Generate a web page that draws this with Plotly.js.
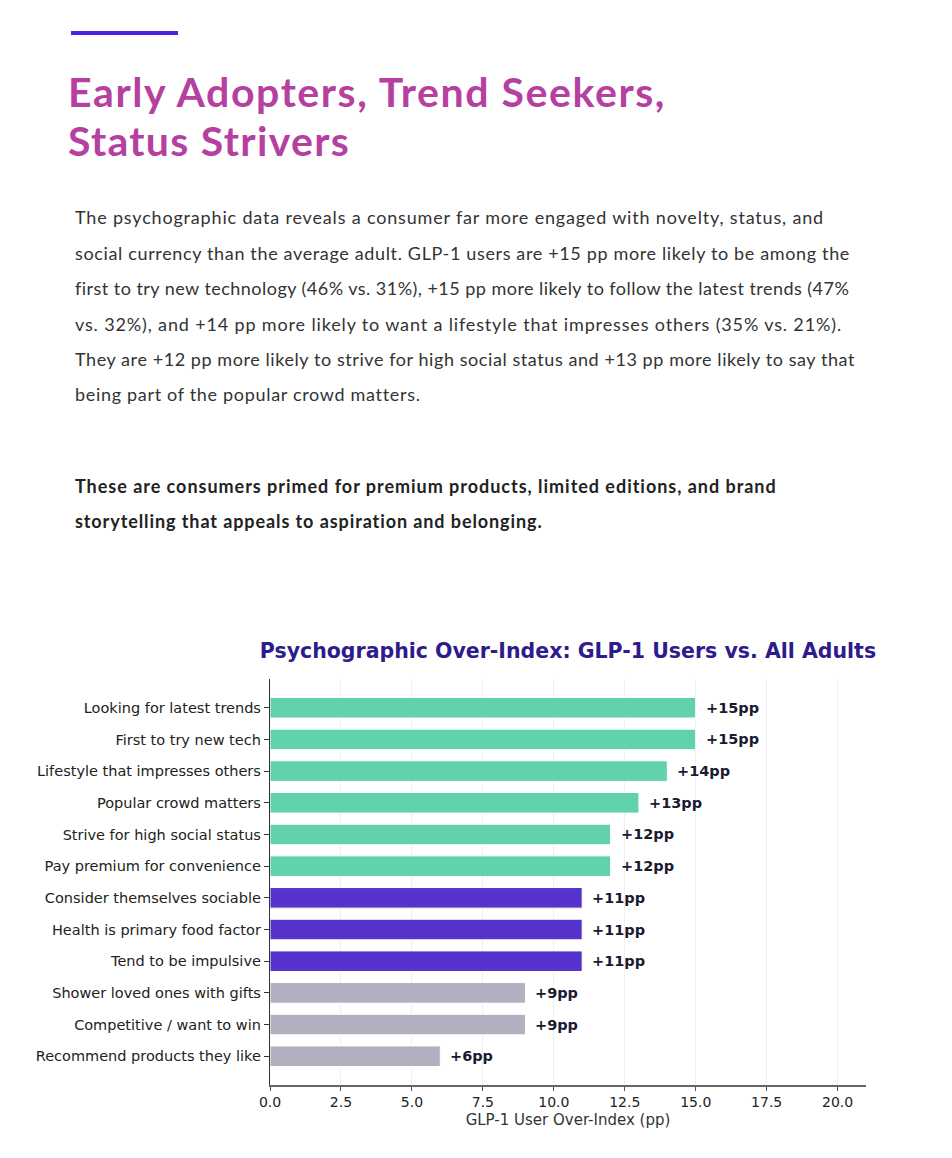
<!DOCTYPE html>
<html>
<head>
<meta charset="utf-8">
<script src="https://cdn.plot.ly/plotly-3.0.1.min.js"></script>
<style>
  html, body { margin:0; padding:0; background:#fff; }
  body { width:952px; height:1158px; position:relative; overflow:hidden; font-family: Lato, "Open Sans", sans-serif; }
  .bar { position:absolute; left:71px; top:31px; width:107px; height:4px; background:#4b20e8; }
  .h { position:absolute; left:68px; font-family: Lato, sans-serif; font-weight:700; font-size:41px; color:#b5409f; white-space:nowrap; line-height:1; }
  .p { position:absolute; left:75px; font-size:18px; color:#333; white-space:nowrap; line-height:1; }
  .b { font-weight:700; color:#222; }
  #chart { position:absolute; left:0; top:600px; width:952px; height:558px; }
</style>
</head>
<body>
<div class="bar"></div>
<div class="h fit" data-w="598" style="top:71px">Early Adopters, Trend Seekers,</div>
<div class="h fit" data-w="282" style="top:120px">Status Strivers</div>

<div class="p fit" data-w="749" style="top:208px">The psychographic data reveals a consumer far more engaged with novelty, status, and</div>
<div class="p fit" data-w="775" style="top:244px">social currency than the average adult. GLP-1 users are +15 pp more likely to be among the</div>
<div class="p fit" data-w="774" style="top:279px">first to try new technology (46% vs. 31%), +15 pp more likely to follow the latest trends (47%</div>
<div class="p fit" data-w="767" style="top:315px">vs. 32%), and +14 pp more likely to want a lifestyle that impresses others (35% vs. 21%).</div>
<div class="p fit" data-w="780" style="top:350px">They are +12 pp more likely to strive for high social status and +13 pp more likely to say that</div>
<div class="p fit" data-w="345" style="top:385px">being part of the popular crowd matters.</div>

<div class="p b fit" data-w="702" style="top:477px">These are consumers primed for premium products, limited editions, and brand</div>
<div class="p b fit" data-w="468" style="top:512px">storytelling that appeals to aspiration and belonging.</div>

<div id="chart"></div>
<script>
document.querySelectorAll(".fit").forEach(el => {
  const target = parseFloat(el.dataset.w);
  const w = el.getBoundingClientRect().width;
  const n = el.textContent.length;
  el.style.letterSpacing = ((target - w) / n) + "px";
});

const categories = [
  "Looking for latest trends",
  "First to try new tech",
  "Lifestyle that impresses others",
  "Popular crowd matters",
  "Strive for high social status",
  "Pay premium for convenience",
  "Consider themselves sociable",
  "Health is primary food factor",
  "Tend to be impulsive",
  "Shower loved ones with gifts",
  "Competitive / want to win",
  "Recommend products they like"
];
const values = [15, 15, 14, 13, 12, 12, 11, 11, 11, 9, 9, 6];
const tiers = ["high","high","high","high","high","high","mid","mid","mid","low","low","low"];
const valueLabels = ["+15pp","+15pp","+14pp","+13pp","+12pp","+12pp","+11pp","+11pp","+11pp","+9pp","+9pp","+6pp"];
const xTicks = [0, 2.5, 5, 7.5, 10, 12.5, 15, 17.5, 20];
const xTickLabels = ["0.0","2.5","5.0","7.5","10.0","12.5","15.0","17.5","20.0"];

const tierColor = { high:"#61d2ad", mid:"#5533cc", low:"#b1afc0" };

const trace = {
  type: "bar",
  orientation: "h",
  x: values,
  y: categories,
  width: 0.65,
  marker: { color: tiers.map(t => tierColor[t]), line: { color: "#ffffff", width: 1 } },
  hoverinfo: "skip"
};

const annotations = categories.map((c, i) => ({
  x: values[i], y: c, xref: "x", yref: "y",
  text: valueLabels[i], showarrow: false,
  xanchor: "left", yanchor: "middle", xshift: 8,
  font: { family: "DejaVu Sans", size: 14.5, color: "#1b1a33", weight: 700 }
}));

const layout = {
  width: 952, height: 558,
  margin: { l: 270, r: 86, t: 79, b: 73, pad: 0 },
  paper_bgcolor: "#ffffff", plot_bgcolor: "#ffffff",
  showlegend: false,
  title: {
    text: "<b>Psychographic Over-Index: GLP-1 Users vs. All Adults</b>",
    font: { family: "DejaVu Sans", size: 20.5, color: "#2e1b8c" },
    x: 0.5966, xanchor: "center", y: 1 - 51/558, yanchor: "middle"
  },
  xaxis: {
    range: [0, 21],
    tickvals: xTicks, ticktext: xTickLabels,
    ticks: "outside", ticklen: 4, tickcolor: "#555",
    showgrid: true, gridcolor: "#efefef", gridwidth: 1,
    showline: true, linecolor: "#666", linewidth: 1.5,
    zeroline: false,
    tickfont: { family: "DejaVu Sans", size: 14, color: "#222" },
    title: { text: "GLP-1 User Over-Index (pp)", font: { family: "DejaVu Sans", size: 15, color: "#333" }, standoff: 5 }
  },
  yaxis: {
    type: "category",
    categoryorder: "array", categoryarray: categories,
    range: [11.9075, -0.9075],
    ticks: "outside", ticklen: 5, tickcolor: "#333",
    showline: true, linecolor: "#333", linewidth: 1.2,
    showgrid: false, zeroline: false,
    tickfont: { family: "DejaVu Sans", size: 14.5, color: "#222" },
    ticklabelstandoff: 0
  },
  annotations: annotations
};

Plotly.newPlot("chart", [trace], layout, { displayModeBar: false, staticPlot: true });
</script>
</body>
</html>
